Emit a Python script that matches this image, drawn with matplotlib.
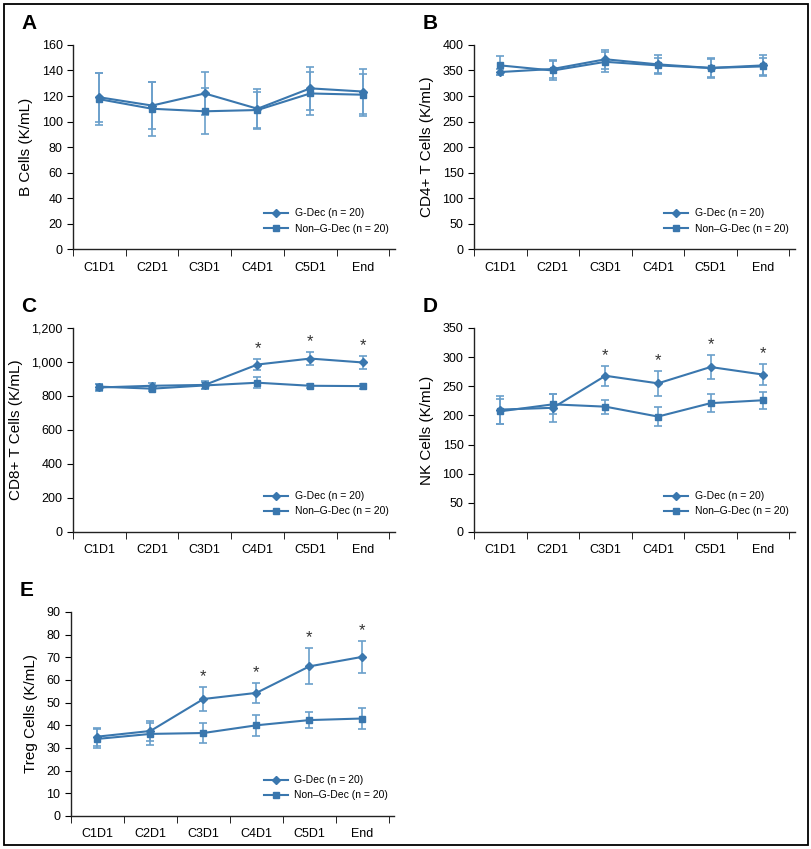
import numpy as np
import matplotlib
matplotlib.use("Agg")
import matplotlib.pyplot as plt
from matplotlib.patches import Rectangle
from matplotlib.lines import Line2D
from matplotlib.ticker import FuncFormatter

plt.rcParams['font.family'] = ['Liberation Sans', 'DejaVu Sans']

# ===== data =====
visits = ['C1D1', 'C2D1', 'C3D1', 'C4D1', 'C5D1', 'End']

b_g_mean = [119, 112.5, 122, 110, 126, 123.5]
b_g_err = [19, 18.5, 17, 15.5, 17, 17.5]
b_n_mean = [117.5, 110, 108, 109, 122, 121]
b_n_err = [20.5, 21, 18, 14, 17, 16.5]

cd4_g_mean = [347, 353, 372, 362, 355, 360]
cd4_g_err = [5, 17, 19, 18, 20, 20]
cd4_n_mean = [360, 350, 367, 360, 355, 358]
cd4_n_err = [18, 18, 20, 15, 18, 16]

cd8_g_mean = [850, 860, 865, 985, 1020, 997]
cd8_g_err = [20, 18, 25, 35, 40, 37]
cd8_n_mean = [855, 843, 862, 878, 860, 858]
cd8_n_err = [18, 15, 20, 32, 12, 15]

nk_g_mean = [210, 213, 268, 255, 283, 270]
nk_g_err = [24, 24, 17, 22, 21, 18]
nk_n_mean = [207, 219, 215, 198, 221, 226]
nk_n_err = [21, 17, 12, 16, 16, 15]

treg_g_mean = [35, 37.5, 51.6, 54.3, 66, 70.2]
treg_g_err = [4, 4.5, 5.3, 4.4, 8, 7]
treg_n_mean = [34, 36.2, 36.6, 40, 42.3, 43]
treg_n_err = [4.2, 4.8, 4.4, 4.7, 3.6, 4.6]

cd8_sig = [3, 4, 5]
nk_sig = [2, 3, 4, 5]
treg_sig = [2, 3, 4, 5]

LINE = '#3a77ae'
ERR = '#6a9fcb'

panels = [
    ('A', [0.0899, 0.7067, 0.396, 0.2403], 'B Cells (K/mL)', b_g_mean, b_g_err, b_n_mean, b_n_err, 160, 20, [], False),
    ('B', [0.5837, 0.7067, 0.395, 0.2403], 'CD4+ T Cells (K/mL)', cd4_g_mean, cd4_g_err, cd4_n_mean, cd4_n_err, 400, 50, [], False),
    ('C', [0.0899, 0.3734, 0.396, 0.2403], 'CD8+ T Cells (K/mL)', cd8_g_mean, cd8_g_err, cd8_n_mean, cd8_n_err, 1200, 200, cd8_sig, True),
    ('D', [0.5837, 0.3734, 0.395, 0.2403], 'NK Cells (K/mL)', nk_g_mean, nk_g_err, nk_n_mean, nk_n_err, 350, 50, nk_sig, False),
    ('E', [0.0874, 0.0389, 0.398, 0.2403], 'Treg Cells (K/mL)', treg_g_mean, treg_g_err, treg_n_mean, treg_n_err, 90, 10, treg_sig, False),
]

fig = plt.figure(figsize=(8.12, 8.49), dpi=100)
fig.patches.append(Rectangle((0.005, 0.005), 0.99, 0.99, transform=fig.transFigure,
                             fill=False, edgecolor='black', linewidth=1.3))

x = np.arange(len(visits)) + 0.5

for letter, pos, ylabel, gm, ge, nm, ne, ymax, ystep, sig, comma in panels:
    ax = fig.add_axes(pos)
    ax.errorbar(x, nm, yerr=ne, color=LINE, ecolor=ERR, marker='s', markersize=5,
                linewidth=1.5, elinewidth=1.2, capsize=3, capthick=1.2)
    ax.errorbar(x, gm, yerr=ge, color=LINE, ecolor=ERR, marker='D', markersize=4.5,
                linewidth=1.5, elinewidth=1.2, capsize=3, capthick=1.2)
    # significance marks above the G-Dec error bars
    for i in sig:
        ax.annotate('*', (x[i], gm[i] + ge[i]), xytext=(0, 2), textcoords='offset points',
                    ha='center', va='bottom', fontsize=12, color='#333333')
    ax.set_xlim(0, 6.1)
    ax.set_ylim(0, ymax)
    ax.set_yticks(np.arange(0, ymax + 1, ystep))
    if comma:
        ax.yaxis.set_major_formatter(FuncFormatter(lambda v, p: f'{int(v):,}'))
    ax.set_xticks(x)
    ax.set_xticklabels(visits)
    ax.set_xticks(np.arange(0, 7), minor=True)
    ax.tick_params(axis='x', which='major', length=0, pad=9, labelsize=9)
    ax.tick_params(axis='x', which='minor', length=5, direction='out')
    ax.tick_params(axis='y', length=4, labelsize=9)
    for s in ['top', 'right']:
        ax.spines[s].set_visible(False)
    for s in ['left', 'bottom']:
        ax.spines[s].set_color('#222222')
        ax.spines[s].set_linewidth(1.0)
    ax.set_ylabel(ylabel, fontsize=11, labelpad=6)
    handles = [Line2D([], [], color=LINE, marker='D', markersize=4, linewidth=1.5),
               Line2D([], [], color=LINE, marker='s', markersize=4.5, linewidth=1.5)]
    ax.legend(handles, ['G-Dec (n = 20)', 'Non\u2013G-Dec (n = 20)'], loc='lower right',
              frameon=False, fontsize=7.5, handlelength=2.3, handletextpad=0.6,
              labelspacing=0.5, bbox_to_anchor=(1.01, 0.03))
    ax.text(-0.16, 1.06, letter, transform=ax.transAxes, fontsize=15, fontweight='bold',
            va='bottom', ha='left')

fig.savefig('out.png', dpi=100)
